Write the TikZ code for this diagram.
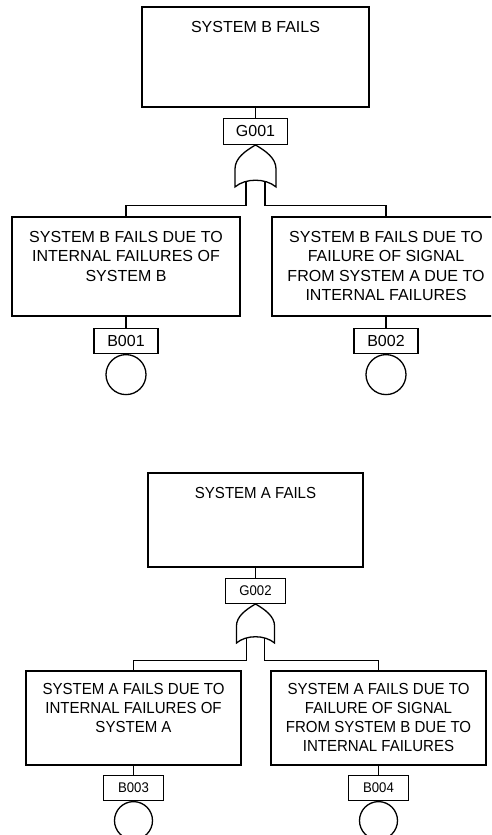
\documentclass[tikz,border=0pt]{standalone}
\usepackage{fontspec}
\setmainfont{Liberation Sans}
\newfontfamily\narrowfont{Liberation Sans}[FakeStretch=0.94]
\usepackage{tikz}
\usetikzlibrary{positioning}

\tikzset{
    wire/.style={line width=1.3pt},
    evbox/.style={draw, line width=1.3pt, inner sep=0pt},
    tagbox/.style={draw, line width=1.3pt, inner sep=0pt},
    basicev/.style={draw, circle, line width=1.3pt, inner sep=0pt},
    txtB/.style={inner sep=0pt, align=center, font=\fontsize{16}{19.5}\selectfont},
    txtA/.style={inner sep=0pt, align=center, font=\narrowfont\fontsize{16}{19}\selectfont},
    orgate/.pic={
        \draw[wire, fill=white] (0,0) .. controls (-10,6) and (-20.5,13) .. (-20.5,24)
            -- (-20.5,42) .. controls (-10,33) and (10,33) .. (20.5,42)
            -- (20.5,24) .. controls (20.5,13) and (10,6) .. cycle;
        \coordinate (-in1) at (-9.5,36.3);
        \coordinate (-in2) at (9.5,36.3);
    }
}

\begin{document}
\begin{tikzpicture}[x=1pt, y=-1pt]
    \useasboundingbox (0,0) rectangle (491,835);
    \clip (0,0) rectangle (491,835);

    % System B tree
    \node[evbox, minimum width=227pt, minimum height=100pt,
        label={[txtB, below=14.5pt]north:SYSTEM B FAILS}] (topB) at (255.5,57) {};
    \node[tagbox, minimum width=64pt, minimum height=26pt, below=10pt of topB,
        font=\fontsize{16}{19}\selectfont] (G001) {G001};
    \draw[wire] (topB) -- (G001);
    \pic (gB) at (G001.south) {orgate};

    \node[evbox, minimum width=228pt, minimum height=99pt,
        label={[txtB, below=14.5pt]north:SYSTEM B FAILS DUE TO\\INTERNAL FAILURES OF\\SYSTEM B}] (intB) at (126,266.5) {};
    \node[evbox, minimum width=228pt, minimum height=99pt,
        label={[txtB, below=14.5pt]north:SYSTEM B FAILS DUE TO\\FAILURE OF SIGNAL\\FROM SYSTEM A DUE TO\\INTERNAL FAILURES}] (sigB) at (386,266.5) {};
    \draw[wire] (gB-in1) |- ([yshift=11pt]intB.north) -- (intB.north);
    \draw[wire] (gB-in2) |- ([yshift=11pt]sigB.north) -- (sigB.north);

    \node[tagbox, minimum width=64pt, minimum height=25pt, below=11pt of intB,
        font=\fontsize{16}{19}\selectfont] (B001) {B001};
    \node[tagbox, minimum width=64pt, minimum height=25pt, below=11pt of sigB,
        font=\fontsize{16}{19}\selectfont] (B002) {B002};
    \draw[wire] (intB) -- (B001);
    \draw[wire] (sigB) -- (B002);
    \node[basicev, minimum size=40pt, below=0pt of B001] (evB1) {};
    \node[basicev, minimum size=40pt, below=0pt of B002] (evB2) {};

    % System A tree
    \node[evbox, minimum width=215pt, minimum height=94pt,
        label={[txtA, below=14.5pt]north:SYSTEM A FAILS}] (topA) at (255.5,520) {};
    \node[tagbox, minimum width=60pt, minimum height=25pt, below=10pt of topA,
        font=\narrowfont\fontsize{14}{17}\selectfont] (G002) {G002};
    \draw[wire] (topA) -- (G002);
    \pic[scale=0.93] (gA) at (G002.south) {orgate};

    \node[evbox, minimum width=215pt, minimum height=94pt,
        label={[txtA, below=12.5pt]north:SYSTEM A FAILS DUE TO\\INTERNAL FAILURES OF\\SYSTEM A}] (intA) at (133.5,718) {};
    \node[evbox, minimum width=215pt, minimum height=94pt,
        label={[txtA, below=12.5pt]north:SYSTEM A FAILS DUE TO\\FAILURE OF SIGNAL\\FROM SYSTEM B DUE TO\\INTERNAL FAILURES}] (sigA) at (378.5,718) {};
    \draw[wire] (gA-in1) |- ([yshift=10pt]intA.north) -- (intA.north);
    \draw[wire] (gA-in2) |- ([yshift=10pt]sigA.north) -- (sigA.north);

    \node[tagbox, minimum width=60pt, minimum height=25pt, below=9pt of intA,
        font=\narrowfont\fontsize{14}{17}\selectfont] (B003) {B003};
    \node[tagbox, minimum width=60pt, minimum height=25pt, below=9pt of sigA,
        font=\narrowfont\fontsize{14}{17}\selectfont] (B004) {B004};
    \draw[wire] (intA) -- (B003);
    \draw[wire] (sigA) -- (B004);
    \node[basicev, minimum size=38pt, below=0pt of B003] (evA1) {};
    \node[basicev, minimum size=38pt, below=0pt of B004] (evA2) {};
\end{tikzpicture}
\end{document}
